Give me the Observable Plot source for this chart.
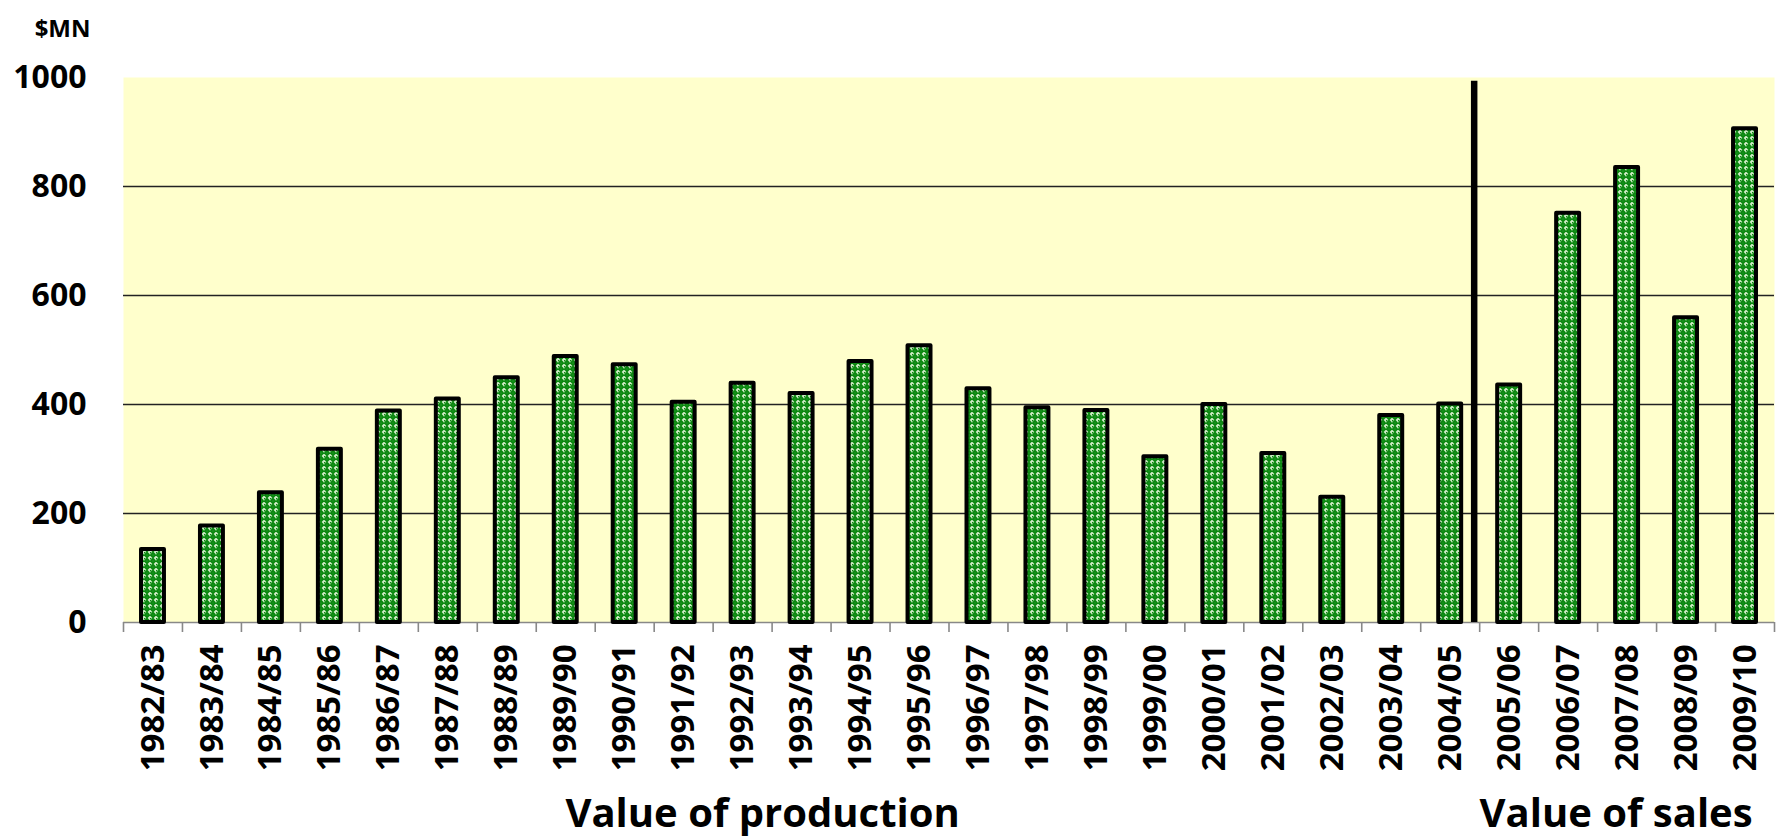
<!DOCTYPE html>
<html>
<head>
<meta charset="utf-8">
<script src="https://cdn.jsdelivr.net/npm/d3@7"></script>
<script src="https://cdn.jsdelivr.net/npm/@observablehq/plot@0.6"></script>
<style>
  html, body { margin: 0; padding: 0; background: #ffffff; }
  #chart svg { display: block; }
</style>
</head>
<body>
<div id="chart"></div>
<script>
// ---- data ----
const years = [
  "1982/83","1983/84","1984/85","1985/86","1986/87","1987/88","1988/89",
  "1989/90","1990/91","1991/92","1992/93","1993/94","1994/95","1995/96",
  "1996/97","1997/98","1998/99","1999/00","2000/01","2001/02","2002/03",
  "2003/04","2004/05","2005/06","2006/07","2007/08","2008/09","2009/10"
];
const values = [
  134, 177, 238, 318, 388, 410, 449,
  488, 473, 404, 439, 420, 479, 508,
  429, 394, 389, 304, 400, 310, 230,
  380, 401, 436, 751, 835, 559, 906
];
const yTicks = [0, 200, 400, 600, 800, 1000];
const gridValues = [200, 400, 600, 800];
const productionLabel = "Value of production";
const salesLabel = "Value of sales";
const productionAnchor = "1992/93";
const salesAnchor = "2007/08";
const dividerBefore = "2005/06";
const unitLabel = "$MN";

const rows = years.map((y, i) => ({year: y, value: values[i]}));

// ---- layout ----
const W = 1783, H = 837;
const mL = 123, mR = 9, mT = 77, mB = 215;
const bw = (W - mL - mR) / years.length;

const chart = Plot.plot({
  width: W,
  height: H,
  marginLeft: mL,
  marginRight: mR,
  marginTop: mT,
  marginBottom: mB,
  style: {fontFamily: "'Open Sans', sans-serif", background: "#ffffff", color: "#000"},
  x: {type: "band", domain: years, padding: 0, round: false},
  y: {domain: [0, 1000]},
  marks: [
    Plot.frame({fill: "#FFFFCC", stroke: null}),
    Plot.ruleY(gridValues, {stroke: "#222222", strokeWidth: 1.5}),
    Plot.ruleY([0], {stroke: "#888888", strokeWidth: 1.6}),
    // category boundary ticks
    Plot.ruleX(years, {x: d => d, y1: 0, y2: 0, insetBottom: -10, dx: -bw / 2, stroke: "#888888", strokeWidth: 1.6}),
    Plot.ruleX([years[years.length - 1]], {x: d => d, y1: 0, y2: 0, insetBottom: -10, dx: bw / 2, stroke: "#888888", strokeWidth: 1.6}),
    Plot.barY(rows, {
      x: "year", y: "value",
      fill: "url(#greenPattern)",
      stroke: "#000", strokeWidth: 4, strokeLinejoin: "round",
      insetLeft: 18, insetRight: 18
    }),
    // divider between production and sales
    Plot.ruleX([dividerBefore], {x: d => d, y1: 0, y2: 993, dx: -bw / 2 - 5.5, stroke: "#000", strokeWidth: 6.5}),
    Plot.axisY({ticks: yTicks, tickSize: 0, tickPadding: 37, tickFormat: d => String(d),
      fontSize: 32, fontWeight: "bold", label: null}),
    Plot.axisX({tickSize: 0, tickPadding: 22, tickRotate: -90,
      fontSize: 33, fontWeight: "bold", label: null}),
    Plot.text([unitLabel], {frameAnchor: "top-left", textAnchor: "end", dx: -33, dy: -58,
      fontSize: 24, fontWeight: "bold", fill: "#000"}),
    Plot.text([productionLabel], {x: () => productionAnchor, frameAnchor: "bottom", dx: 20, dy: 204,
      fontSize: 40, fontWeight: "bold", fill: "#000"}),
    Plot.text([salesLabel], {x: () => salesAnchor, frameAnchor: "bottom", dx: -11, dy: 204,
      fontSize: 40, fontWeight: "bold", fill: "#000"})
  ]
});

// pattern definition for the bars
const ns = "http://www.w3.org/2000/svg";
const defs = document.createElementNS(ns, "defs");
defs.innerHTML = `
  <pattern id="greenPattern" patternUnits="userSpaceOnUse" width="6" height="6">
    <rect width="6" height="6" fill="#cdeac4"/>
    <polygon points="3,-0.6 6.6,3 3,6.6 -0.6,3" fill="#0a870f"/>
    <rect x="0" y="0" width="1.4" height="1.4" fill="#0a870f"/>
    <rect x="2.6" y="2.6" width="0.8" height="0.8" fill="#4caf50"/>
  </pattern>`;
chart.prepend(defs);

document.getElementById("chart").appendChild(chart);
</script>
</body>
</html>
